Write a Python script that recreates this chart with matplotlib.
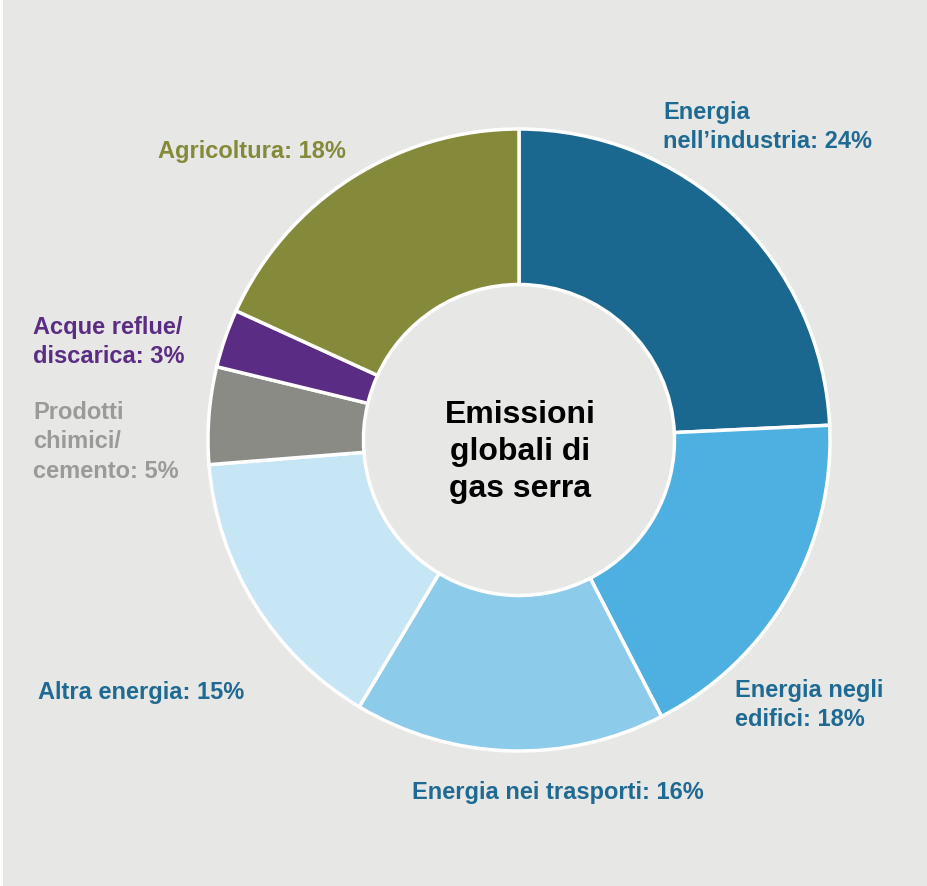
import matplotlib.pyplot as plt
from matplotlib.patches import Rectangle

plt.rcParams['font.family'] = ['Liberation Sans', 'DejaVu Sans']

# emission shares by sector (%), clockwise from the top
sectors = ["Energia\nnell\u2019industria", "Energia negli\nedifici", "Energia nei trasporti",
           "Altra energia", "Prodotti\nchimici/\ncemento", "Acque reflue/\ndiscarica", "Agricoltura"]
shares = [24, 18, 16, 15, 5, 3, 18]
colors = ["#1a6890", "#4eb0e0", "#8ccbea", "#c6e5f5", "#8b8b86", "#5b2c83", "#858a3a"]
label_colors = ["#1f6a92", "#1f6a92", "#1f6a92", "#1f6a92", "#9a9a97", "#5b2c83", "#858a3a"]
# label anchor points (left edge, top of first line), in pixels from top-left
label_pos = [(663, 101), (735, 679), (412, 781), (38, 681), (33, 401), (33, 316), (158, 140)]

W, H = 927, 887
bg = "#e7e7e5"

fig = plt.figure(figsize=(W / 100, H / 100), dpi=100, facecolor=bg)
ax = fig.add_axes([0, 0, 1, 1])
ax.set_facecolor(bg)

cx, cy, r = 519, H - 441, 311
ax.pie(shares, colors=colors, startangle=90, counterclock=False,
       center=(cx, cy), radius=r,
       wedgeprops=dict(width=r * 0.5, edgecolor="white", linewidth=2.5))

ax.set_xlim(0, W)
ax.set_ylim(0, H)
ax.set_aspect("equal")
ax.axis("off")

for name, val, c, (x, y) in zip(sectors, shares, label_colors, label_pos):
    ax.text(x, H - y, f"{name}: {val}%", color=c, fontsize=17, fontweight="bold",
            ha="left", va="top", linespacing=1.35)

ax.text(520, H - 452, "Emissioni\nglobali di\ngas serra", color="black", fontsize=23,
        fontweight="bold", ha="center", va="center", linespacing=1.32)

# thin white strip on the left edge
fig.patches.append(Rectangle((0, 0), 3 / W, 1, transform=fig.transFigure,
                             facecolor="white", edgecolor="none"))

fig.savefig("out.png", dpi=100, facecolor=bg)
